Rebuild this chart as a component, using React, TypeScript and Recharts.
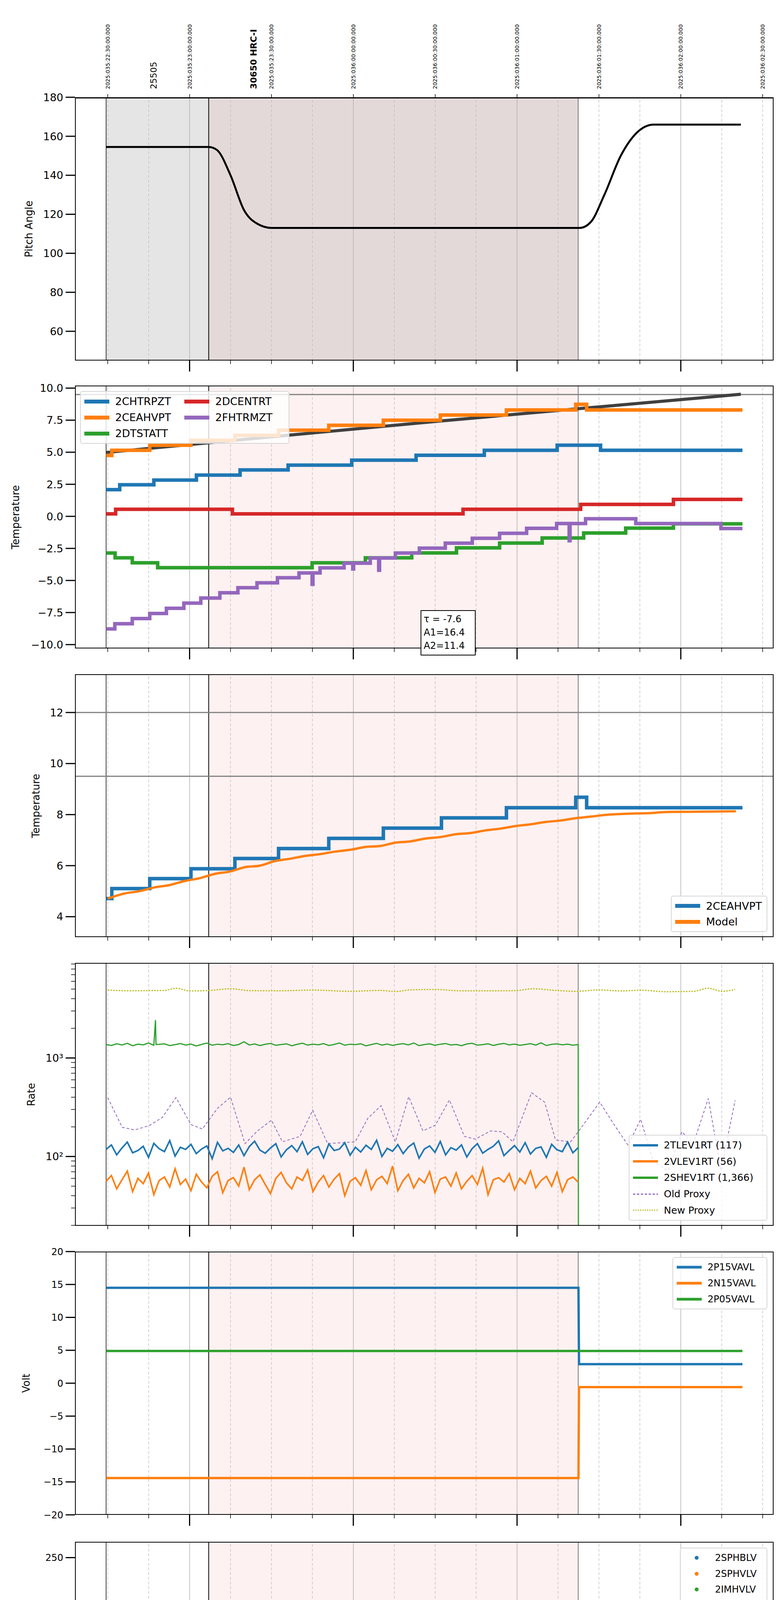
import React from "react";
import {
  LineChart,
  Line,
  XAxis,
  YAxis,
  ReferenceArea,
  ReferenceLine,
  Scatter,
} from "recharts";

type P = [number, number];

// time axis: minutes after 17:00 on 2025-02-05
const xDomain: P = [18, 274];
const xTicks = [30, 45, 60, 75, 90, 105, 120, 135, 150, 165, 180, 195, 210, 225, 240, 255, 270];
const hourLabels: Record<number, string> = { 60: "18h", 120: "19h", 180: "20h", 240: "21h" };
const topTicks = [30, 46.8, 60, 83.4, 90, 120, 150, 180, 210, 240, 270];
const topLabels: Record<number, string> = {
  30: "2025:035:22:30:00.000",
  60: "2025:035:23:00:00.000",
  90: "2025:035:23:30:00.000",
  120: "2025:036:00:00:00.000",
  150: "2025:036:00:30:00.000",
  180: "2025:036:01:00:00.000",
  210: "2025:036:01:30:00.000",
  240: "2025:036:02:00:00.000",
  270: "2025:036:02:30:00.000",
};
const obsStart = 29.4;
const hrcStart = 67;
const hrcEnd = 202.4;

// panel 1
const pitch: P[] = [
  [29.4, 154.5], [67, 154.5], [70, 153], [75, 140], [80, 122], [85, 115], [90, 113],
  [203, 113], [207, 116], [212, 130], [218, 150], [224, 162], [230, 166], [262, 166],
];

// panel 2
const chtrpzt: P[] = [[29.4, 2.08], [34.4, 2.46], [46.9, 2.83], [62.5, 3.22], [78.5, 3.62], [96.1, 3.99], [119.4, 4.38], [143, 4.76], [168, 5.15], [194.7, 5.55], [210.6, 5.15], [262.6, 5.15]];
const ceahvpt: P[] = [[29.4, 4.75], [31.5, 5.15], [45.4, 5.55], [60.5, 5.93], [76.6, 6.32], [92.6, 6.72], [111, 7.1], [131, 7.5], [151.9, 7.9], [176.1, 8.3], [201.5, 8.74], [205.5, 8.3], [262.6, 8.3]];
const dtstatt: P[] = [[29.4, -2.86], [32.7, -3.23], [39, -3.62], [48.3, -4.0], [104.9, -3.62], [124.4, -3.23], [141.4, -2.85], [157.8, -2.46], [173.6, -2.08], [189.2, -1.69], [204.4, -1.3], [219.8, -0.92], [237.3, -0.58], [262.6, -0.58]];
const dcentrt: P[] = [[29.4, 0.19], [32.9, 0.55], [75.7, 0.19], [160.2, 0.55], [203.3, 0.93], [237.3, 1.32], [262.6, 1.32]];
const fhtrmztT: P[] = [
  [29.4, -8.78], [32.6, -8.37], [39, -7.97], [45.4, -7.57], [51.5, -7.17], [57.9, -6.77], [64.1, -6.37], [71.1, -5.96],
  [77.7, -5.56], [84.7, -5.18], [92.2, -4.79], [100.1, -4.41], [104.8, -4.41], [104.9, -5.3], [105.2, -4.41], [107.8, -4.02],
  [116.6, -3.65], [119.8, -4.1], [120.1, -3.65], [126.2, -3.25], [129.3, -4.2], [129.6, -3.25], [135.4, -2.86], [144.2, -2.48],
  [153.7, -2.09], [163.6, -1.71], [173.6, -1.32], [183.5, -0.93], [194.5, -0.56], [199.1, -1.9], [199.4, -0.56], [205.1, -0.19],
  [223.5, -0.56], [254.7, -0.95], [262.6, -0.95],
];
const tempModel: P[] = [[29.4, 4.98], [90, 6.2], [150, 7.4], [262, 9.52]];

// panel 3
const ceahvpt3: P[] = [[29.4, 4.71], [31.5, 5.1], [45.4, 5.49], [60.5, 5.88], [76.6, 6.28], [92.6, 6.67], [111, 7.07], [131, 7.47], [152.3, 7.87], [176.1, 8.27], [201.5, 8.68], [205.5, 8.27], [262.6, 8.27]];
const model3: P[] = [
  [30, 4.71], [36.2, 4.91], [41.7, 5.0], [47.2, 5.15], [52.7, 5.24], [58.3, 5.4], [63.8, 5.51], [69.3, 5.68], [74.8, 5.77],
  [80.3, 5.94], [85.8, 6.0], [91.3, 6.18], [96.8, 6.27], [102.3, 6.38], [107.8, 6.45], [113.3, 6.55], [118.8, 6.62], [124.4, 6.73],
  [129.9, 6.77], [135.4, 6.9], [140.9, 6.95], [146.4, 7.06], [151.9, 7.12], [157.4, 7.23], [162.9, 7.28], [168.4, 7.38], [173.9, 7.45],
  [179.4, 7.55], [184.9, 7.62], [190.5, 7.71], [196, 7.77], [201.5, 7.86], [207, 7.92], [212.5, 7.99], [221.7, 8.04], [229, 8.06],
  [234.5, 8.1], [243.7, 8.11], [260.2, 8.13],
];

// panel 4 (rates, sampled evenly between obsStart and hrcEnd)
const tlev1rt = [118, 131, 104, 122, 140, 109, 115, 127, 98, 136, 120, 112, 145, 101, 124, 118, 133, 107, 119, 128, 95, 139, 114, 121, 110, 131, 102, 126, 143, 116, 108, 122, 135, 99, 117, 129, 112, 141, 105, 120, 126, 97, 134, 115, 119, 138, 103, 124, 111, 130, 118, 146, 100, 121, 113, 132, 107, 125, 137, 96, 119, 128, 110, 142, 104, 123, 116, 131, 99, 120, 135, 108, 118, 127, 144, 102, 115, 129, 111, 138, 106, 121, 125, 98, 133, 117, 112, 140, 109, 123];
const vlev1rt = [56, 64, 47, 58, 71, 44, 60, 53, 68, 41, 57, 62, 49, 75, 52, 59, 45, 66, 55, 48, 63, 70, 43, 57, 61, 50, 78, 46, 58, 65, 52, 42, 60, 69, 54, 47, 62, 57, 73, 44, 55, 64, 49, 59, 67, 40, 56, 61, 51, 72, 46, 58, 63, 53, 80, 45, 57, 66, 48, 60, 54, 70, 43, 59, 62, 50, 68, 47, 56, 64, 52, 76, 41, 58, 61, 55, 67, 46, 60, 53, 71, 48, 57, 63, 50, 69, 44, 58, 62, 55];
const shev1rt = [1370, 1340, 1395, 1355, 1410, 1330, 1380, 1360, 1420, 1345, 1375, 1390, 1335, 1365, 1400, 1350, 1385, 1325, 1372, 1415, 1348, 1380, 1362, 1398, 1340, 1370, 1460, 1355, 1388, 1335, 1378, 1405, 1345, 1368, 1392, 1330, 1375, 1412, 1350, 1383, 1360, 1400, 1338, 1372, 1418, 1347, 1380, 1365, 1395, 1328, 1370, 1408, 1352, 1386, 1342, 1375, 1398, 1358, 1420, 1335, 1368, 1390, 1346, 1380, 1402, 1355, 1372, 1332, 1388, 1410, 1350, 1366, 1395, 1340, 1378, 1405, 1357, 1384, 1345, 1370, 1398, 1352, 1425, 1338, 1375, 1392, 1360, 1382, 1348, 1370];
const shevExtra: P[] = [[47.5, 2420], [47.7, 1370], [202.5, 5]];
const oldProxy: P[] = [
  [30, 396], [35.3, 198], [39.9, 186], [45.4, 207], [50, 249], [55, 396], [60.5, 211], [64.7, 190], [70.2, 308], [75, 400],
  [80.3, 135], [84.9, 182], [90, 234], [94, 141], [100.5, 160], [105.1, 295], [110.6, 135], [120.7, 141], [125.3, 244], [130.2, 328],
  [135.4, 141], [140.3, 405], [145.5, 182], [150, 207], [155.2, 375], [160.7, 160], [164.7, 150], [170.3, 182], [174.5, 178], [178.5, 141],
  [185.3, 444], [190.1, 356], [194.1, 147], [199.6, 141], [202.9, 186], [210.3, 356], [216.2, 198], [220.7, 130], [225.3, 239], [229.9, 89],
  [235.4, 72], [240.4, 178], [244.6, 135], [250.1, 388], [254.7, 72], [259.9, 372],
];
const newProxy: P[] = [
  [30, 4890], [38.1, 4810], [45.4, 4830], [50.9, 4850], [55, 5100], [60.1, 4790], [67.4, 4850], [75, 5040], [82.1, 4830], [93.1, 4810],
  [105.1, 4890], [118.8, 4750], [129.9, 4850], [135.4, 4730], [140.9, 4910], [150, 4960], [159.2, 4810], [173.9, 4810], [179.4, 4830],
  [185.9, 5040], [194.1, 4850], [201.5, 4750], [210.3, 4910], [218, 4790], [225.3, 4870], [234.5, 4710], [244.6, 4750], [250.1, 5100],
  [255.1, 4750], [259.9, 4960],
];

// panel 5
const p15vavl: P[] = [[29.4, 14.5], [202.5, 14.5], [202.7, 2.9], [262.6, 2.9]];
const n15vavl: P[] = [[29.4, -14.4], [202.5, -14.4], [202.7, -0.6], [262.6, -0.6]];
const p05vavl: P[] = [[29.4, 4.9], [262.6, 4.9]];

// panel 6
const imhblv: P[] = [[29.4, 86], [202.4, 86]];
const imhvlv: P[] = [[29.4, 79], [202.4, 79]];
const imhvlvOut: P[] = [[138.1, 127], [138.6, 127], [139, 127], [174, 127], [176.7, 127]];
const imhblvOut: P[] = [[138.1, 79], [138.6, 79], [139.2, 79], [174, 79], [176.7, 79]];

// panel 7
const spikeA = [131.3, 133.2, 135.7, 136.3, 136.9, 137.5, 138.1, 138.7, 139.3, 139.9, 140.5, 142.4, 144.2, 146.4];
const spikeB = [173.9, 176.1, 180, 183.1, 185.9];
const spinatm: P[] = [[29.4, 3.66], [32.6, 3.19], [38.6, 2.68], [48.3, 2.21], [80.3, 1.72], [81.5, 2.21], [82.5, 1.72], [84, 2.21], [85.2, 1.72], [86.6, 2.21], [88, 1.72], [89.4, 2.21], [90.4, 1.72], [91.3, 2.21], [169.3, 2.68], [201.8, 2.68]];
const sphvatm: P[] = [[29.4, 12.65], [52, 12.97], [70.7, 13.31], [87.6, 13.64], [102.7, 13.98], [118.9, 14.3], [135.4, 14.64], [152.4, 14.99], [171.7, 15.35], [191.7, 15.68], [201.8, 15.68]];
const iminatm: P[] = [[29.4, -0.1], [96.8, 0.38], [160.2, 0.84], [201.8, 0.84]];
const imhvatm: P[] = [[29.4, 12.3], [30.2, 12.65], [36.2, 12.97], [43.2, 13.31], [50.4, 13.64], [58.6, 13.98], [67, 14.3], [77, 14.64], [87.6, 14.99], [99, 15.35], [110.8, 15.68], [124.4, 16.02], [138.7, 16.36], [154.3, 16.71], [171.7, 17.05], [192.3, 17.42], [202.3, 17.42], [202.4, 30], [202.5, -10]];

// panel 8
const fhtrmzt8: P[] = [
  [29.4, -8.79], [32.6, -8.37], [38.6, -7.98], [45, -7.58], [51.5, -7.17], [58.3, -6.77], [64.7, -6.38], [71.1, -5.98], [77.7, -5.59],
  [84.5, -5.19], [91.9, -4.8], [100.1, -4.4], [104.5, -5.2], [104.8, -4.4], [108.4, -4.01], [117, -3.62], [119.8, -4.1], [120.1, -3.62],
  [125.8, -3.23], [129, -4.1], [129.3, -3.23], [135.4, -2.84], [145.5, -2.51], [153.7, -2.13], [163.8, -1.74], [173.6, -1.36],
  [184.6, -1.0], [194.5, -0.6], [199.1, -1.8], [199.4, -0.6], [205.1, -0.24], [223.5, -0.61], [255.1, -1.0], [262.6, -1.0],
];
const fradpyt: P[] = [[29.4, -9.4], [46.9, -8.79], [53.3, -8.39], [59.7, -7.98], [66.2, -7.58], [73.3, -7.17], [81.6, -6.77], [94, -6.38], [106, -5.98], [117.4, -5.58], [128, -5.19], [140.5, -4.8], [149.1, -4.42], [159.2, -4.03], [170.3, -3.65], [181.6, -3.26], [193.2, -2.87], [204.6, -2.51], [210.6, -2.87], [256, -3.26], [262.6, -3.26]];
const fepratm: P[] = [[29.4, -7.28], [34, -6.86], [39.5, -6.44], [45.4, -6.03], [51.5, -5.62], [58.3, -5.21], [64.7, -4.8], [71.1, -4.37], [78.5, -3.95], [85.8, -3.54], [93.1, -3.12], [101.8, -2.68], [110.2, -2.27], [119.4, -1.84], [129, -1.41], [137.2, -0.98], [149.3, -0.54], [160.7, -0.09], [171.7, 0.36], [184, 0.81], [195.6, 1.3], [202.4, 1.3]];
const fe00atm: P[] = [[29.4, -9.5], [37.2, -8.97], [42.3, -8.57], [46.9, -8.18], [51.8, -7.8], [56.8, -7.43], [61.9, -7.13], [67, -6.75], [68.4, -6.0], [68.7, -6.75], [72.4, -6.4], [77.9, -6.05], [79.7, -5.0], [80, -6.05], [83.6, -5.69], [89.5, -5.35], [95.9, -5.0], [102.3, -4.66], [109.1, -4.32], [116.1, -3.97], [122.9, -3.63], [129.9, -3.29], [138, -3.03], [143.1, -10], [143.4, -3.03], [146.4, -2.61], [153.7, -2.29], [160.7, -1.95], [169.3, -1.63], [177.2, -1.29], [185, -0.94], [193.8, -0.63], [202.3, -0.63], [202.4, 5], [202.5, -10]];
const redSpike8A = [131.3, 133.2, 135.5, 136.1, 136.7, 137.3, 137.9, 138.5, 139.1, 139.7, 140.3, 140.9, 141.5, 142.1, 142.7, 143.6, 144.2, 144.8, 145.4, 146];
const redSpike8B = [173, 175.4, 177.6, 180, 183.1, 185.9];
const greenSpike8 = [133.2, 137.2, 138.1, 139.4, 140.5, 142.7, 144.9, 146.4, 173.9, 176.3];

// ---------- helpers ----------
const C = { blue: "#1f77b4", orange: "#ff7f0e", green: "#2ca02c", red: "#d62728", purple: "#9467bd", olive: "#bcbd22" };
const FONT = "DejaVu Sans";
const L = 192;
const R = 19;
const PW = 2000 - L - R;
const SW = 9;

const pts = (a: P[]) => a.map(([t, v]) => ({ t, v }));
function withSpikes(base: P[], times: number[], val: number): P[] {
  const out: P[] = [...base];
  for (const s of times) {
    let b = base[0][1];
    for (const [t, v] of base) if (t <= s) b = v;
    out.push([s, val], [s + 0.3, b]);
  }
  return out.sort((a, b) => a[0] - b[0]);
}
function evenly(vals: number[]): P[] {
  const dt = (hrcEnd - obsStart) / (vals.length - 1);
  return vals.map((v, i) => [obsStart + i * dt, v] as P);
}
const xPix = (m: number) => L + ((m - xDomain[0]) / (xDomain[1] - xDomain[0])) * PW;

function XTick(props: any) {
  const { x, y, payload, labels } = props;
  const v = payload.value;
  const hour = v % 60 === 0;
  const minor = v % 60 === 30 ? "30" : v % 60 === 45 ? "45" : "15";
  return (
    <g>
      <line x1={x} x2={x} y1={y} y2={y + (hour ? 28 : 9)} stroke="#000" strokeWidth={hour ? 3 : 1.5} />
      {labels && !hour && (
        <text x={x} y={y + 22} textAnchor="middle" fontFamily={FONT} fontSize={17}>{minor}</text>
      )}
      {labels && hour && (
        <text x={x} y={y + 60} textAnchor="middle" fontFamily={FONT} fontSize={26}>{hourLabels[v]}</text>
      )}
    </g>
  );
}

function TopTick(props: any) {
  const { x, payload } = props;
  const v = payload.value;
  const y = 228;
  if (v === 46.8 || v === 83.4) {
    return (
      <text transform={`translate(${x + 8},${y}) rotate(-90)`} fontFamily={FONT} fontSize={22} fontWeight={v === 83.4 ? "bold" : "normal"}>
        {v === 46.8 ? "25505" : "30650 HRC-I"}
      </text>
    );
  }
  return (
    <g>
      <line x1={x} x2={x} y1={249} y2={241} stroke="#000" strokeWidth={1.5} />
      <text transform={`translate(${x + 5},${y}) rotate(-90)`} fontFamily={FONT} fontSize={14}>{topLabels[v]}</text>
    </g>
  );
}

function YTick(props: any) {
  const { x, y, payload, fmt, fs, minor } = props;
  const v = payload.value;
  const isMinor = minor && minor.includes(v);
  const lab = fmt(v);
  return (
    <g>
      <line x1={x - (isMinor ? 10 : 24)} x2={x} y1={y} y2={y} stroke="#000" strokeWidth={isMinor ? 1.5 : 3} />
      {!isMinor && lab !== "" && (
        <text x={x - 30} y={y} dy="0.36em" textAnchor="end" fontFamily={FONT} fontSize={fs}>{lab}</text>
      )}
    </g>
  );
}

const minus = (s: string) => s.replace("-", "\u2212");

function frame(shadeDark: boolean) {
  const els: any[] = [
    <ReferenceArea key="s1" x1={obsStart} x2={hrcStart} fill={shadeDark ? "#e5e5e5" : "#ffffff"} fillOpacity={1} stroke="none" ifOverflow="hidden" />,
    <ReferenceArea key="s2" x1={hrcStart} x2={hrcEnd} fill={shadeDark ? "#e4d9d9" : "#fef1f1"} fillOpacity={1} stroke="none" ifOverflow="hidden" />,
  ];
  xTicks.forEach((t) => {
    const hour = t % 60 === 0;
    els.push(
      <ReferenceLine key={"g" + t} x={t} stroke={hour ? "#b0b0b0" : "#b8b8b8"} strokeWidth={hour ? 1.5 : 1.2} strokeDasharray={hour ? undefined : "7 5"} />
    );
  });
  els.push(<ReferenceLine key="b1" x={obsStart} stroke="#000" strokeWidth={1.5} />);
  els.push(<ReferenceLine key="b2" x={hrcStart} stroke="#000" strokeWidth={2} />);
  els.push(<ReferenceLine key="b3" x={hrcEnd} stroke="#000" strokeWidth={1} />);
  return els;
}

type LegItem = { label: string; color: string; kind?: "line" | "dash" | "dot" | "dotted"; w?: number };

function Legend({ items, x, y, w, h, cols = 1, fs = 27 }: { items: LegItem[]; x: number; y: number; w: number; h: number; cols?: number; fs?: number }) {
  const rows = Math.ceil(items.length / cols);
  return (
    <div
      style={{
        position: "absolute", left: x, top: y, width: w, height: h, boxSizing: "border-box",
        border: "2px solid #d6d6d6", borderRadius: 6, background: "rgba(255,255,255,0.8)",
        display: "grid", gridTemplateColumns: `repeat(${cols}, auto)`, gridTemplateRows: `repeat(${rows}, 1fr)`,
        gridAutoFlow: "column", padding: "4px 8px", fontFamily: FONT, fontSize: fs, alignItems: "center",
      }}
    >
      {items.map((it) => (
        <div key={it.label} style={{ display: "flex", alignItems: "center", whiteSpace: "nowrap" }}>
          <svg width={66} height={16} style={{ marginRight: 14 }}>
            {it.kind === "dot" ? (
              <circle cx={33} cy={8} r={5} fill={it.color} />
            ) : (
              <line x1={1} x2={65} y1={8} y2={8} stroke={it.color} strokeWidth={it.w ?? 10}
                strokeDasharray={it.kind === "dash" ? "6 4" : it.kind === "dotted" ? "3 3" : undefined} />
            )}
          </svg>
          {it.label}
        </div>
      ))}
    </div>
  );
}

function Panel(props: {
  top: number; bottom: number; yDomain: P; yTicks: number[]; fmt: (v: number) => string; fs?: number;
  yLabel: string; yLabelX: number; log?: boolean; minor?: number[]; first?: boolean; last?: boolean;
  children: any; overlay?: any;
}) {
  const { top, bottom, first, last } = props;
  const mTop = first ? top : 12;
  const mBot = last ? 110 : 40;
  const chartTop = top - mTop;
  const H = bottom - top + mTop + mBot;
  return (
    <div style={{ position: "absolute", left: 0, top: chartTop, width: 2000, height: H }}>
      <LineChart width={2000} height={H} margin={{ top: first ? 0 : mTop, right: R, bottom: 0, left: 0 }}>
        <XAxis dataKey="t" type="number" domain={xDomain} ticks={xTicks} interval={0} tickSize={0} tickMargin={0}
          axisLine={false} tickLine={false} tick={<XTick labels={!!last} />} height={mBot} allowDataOverflow />
        {first && (
          <XAxis xAxisId="top" orientation="top" dataKey="t" type="number" domain={xDomain} ticks={topTicks} interval={0}
            tickSize={0} tickMargin={0} axisLine={false} tickLine={false} tick={<TopTick />} height={mTop} allowDataOverflow />
        )}
        <YAxis type="number" width={L} domain={props.yDomain} ticks={props.yTicks} interval={0} allowDataOverflow
          scale={props.log ? "log" : "auto"} tickSize={0} tickMargin={0} axisLine={false} tickLine={false}
          tick={<YTick fmt={props.fmt} fs={props.fs ?? 27} minor={props.minor} />} />
        {props.children}
      </LineChart>
      <div style={{ position: "absolute", left: L, top: mTop, width: PW, height: bottom - top, border: "2px solid #000", borderTopWidth: first ? 3 : 2, boxSizing: "border-box", pointerEvents: "none" }} />
      <div style={{ position: "absolute", left: props.yLabelX, top: mTop + (bottom - top) / 2, transform: "translate(-50%,-50%) rotate(-90deg)", fontFamily: FONT, fontSize: 26, whiteSpace: "nowrap" }}>
        {props.yLabel}
      </div>
      {props.overlay}
    </div>
  );
}

const step = (key: string, data: P[], color: string, w = SW) => (
  <Line key={key} data={pts(data)} dataKey="v" type="stepAfter" stroke={color} strokeWidth={w} dot={false} isAnimationActive={false} />
);

const logMinor = [20, 30, 40, 50, 60, 70, 80, 90, 200, 300, 400, 500, 600, 700, 800, 900, 2000, 3000, 4000, 5000, 6000, 7000, 8000, 9000];

export default function App() {
  const rateBlue = evenly(tlev1rt);
  const rateOrange = evenly(vlev1rt);
  const rateGreen = [...evenly(shev1rt), ...shevExtra].sort((a, b) => a[0] - b[0]);
  return (
    <div style={{ position: "absolute", left: 0, top: 0, width: 2000, height: 6200, background: "#fff" }}>
      <Panel first top={249} bottom={923} yDomain={[45, 180]} yTicks={[60, 80, 100, 120, 140, 160, 180]} fmt={(v) => String(v)} yLabel="Pitch Angle" yLabelX={74}>
        {frame(true)}
        <Line data={pts(pitch)} dataKey="v" type="monotone" stroke="#000" strokeWidth={5} dot={false} isAnimationActive={false} />
      </Panel>

      <Panel top={987} bottom={1660} yDomain={[-10.3, 10.2]} yTicks={[-10, -7.5, -5, -2.5, 0, 2.5, 5, 7.5, 10]} fmt={(v) => minus(v.toFixed(1))} yLabel="Temperature" yLabelX={40}
        overlay={
          <>
            <Legend x={205} y={1001 - 975} w={536} h={135} cols={2} items={[
              { label: "2CHTRPZT", color: C.blue }, { label: "2CEAHVPT", color: C.orange }, { label: "2DTSTATT", color: C.green },
              { label: "2DCENTRT", color: C.red }, { label: "2FHTRMZT", color: C.purple },
            ]} />
            <div style={{ position: "absolute", left: 1077, top: 1562 - 975, width: 141, height: 116, boxSizing: "border-box", border: "2px solid #000", background: "#fff", fontFamily: FONT, fontSize: 24, lineHeight: "34px", padding: "4px 6px" }}>
              τ = -7.6<br />A1=16.4<br />A2=11.4
            </div>
          </>
        }>
        {frame(false)}
        <ReferenceLine y={9.5} stroke="#808080" strokeWidth={3} />
        <Line data={pts(tempModel)} dataKey="v" type="monotone" stroke="#404040" strokeWidth={8} dot={false} isAnimationActive={false} />
        {step("a", chtrpzt, C.blue)}
        {step("b", ceahvpt, C.orange)}
        {step("c", dtstatt, C.green)}
        {step("d", dcentrt, C.red)}
        {step("e", fhtrmztT, C.purple)}
      </Panel>

      <Panel top={1726} bottom={2399} yDomain={[3.2, 13.5]} yTicks={[4, 6, 8, 10, 12]} fmt={(v) => String(v)} yLabel="Temperature" yLabelX={92}
        overlay={<Legend x={1718} y={2293 - 1714} w={247} h={93} items={[{ label: "2CEAHVPT", color: C.blue }, { label: "Model", color: C.orange }]} />}>
        {frame(false)}
        <ReferenceLine y={12} stroke="#808080" strokeWidth={3} />
        <ReferenceLine y={9.5} stroke="#808080" strokeWidth={3} />
        {step("a", ceahvpt3, C.blue, 9)}
        <Line data={pts(model3)} dataKey="v" type="monotone" stroke={C.orange} strokeWidth={6} dot={false} isAnimationActive={false} />
      </Panel>

      <Panel top={2465} bottom={3138} log yDomain={[19.8, 9230]} yTicks={[...logMinor, 100, 1000].sort((a, b) => a - b)} minor={logMinor}
        fmt={(v) => (v === 100 ? "10²" : v === 1000 ? "10³" : "")} yLabel="Rate" yLabelX={80}
        overlay={<Legend x={1610} y={2905 - 2453} w={355} h={220} fs={25} items={[
          { label: "2TLEV1RT (117)", color: C.blue, w: 6 }, { label: "2VLEV1RT (56)", color: C.orange, w: 6 },
          { label: "2SHEV1RT (1,366)", color: C.green, w: 6 }, { label: "Old Proxy", color: C.purple, kind: "dash", w: 3 },
          { label: "New Proxy", color: C.olive, kind: "dotted", w: 3 },
        ]} />}>
        {frame(false)}
        <Line data={pts(newProxy)} dataKey="v" type="monotone" stroke={C.olive} strokeWidth={3} strokeDasharray="4 3" dot={false} isAnimationActive={false} />
        <Line data={pts(rateGreen)} dataKey="v" type="linear" stroke={C.green} strokeWidth={3} dot={false} isAnimationActive={false} />
        <Line data={pts(oldProxy)} dataKey="v" type="linear" stroke={C.purple} strokeWidth={2} strokeDasharray="7 5" dot={false} isAnimationActive={false} />
        <Line data={pts(rateBlue)} dataKey="v" type="linear" stroke={C.blue} strokeWidth={4} dot={false} isAnimationActive={false} />
        <Line data={pts(rateOrange)} dataKey="v" type="linear" stroke={C.orange} strokeWidth={4} dot={false} isAnimationActive={false} />
      </Panel>

      <Panel top={3204} bottom={3878} yDomain={[-20, 20]} yTicks={[-20, -15, -10, -5, 0, 5, 10, 15, 20]} fs={24} fmt={(v) => minus(String(v))} yLabel="Volt" yLabelX={67}
        overlay={<Legend x={1722} y={3218 - 3192} w={243} h={134} fs={24} items={[
          { label: "2P15VAVL", color: C.blue, w: 7 }, { label: "2N15VAVL", color: C.orange, w: 7 }, { label: "2P05VAVL", color: C.green, w: 7 },
        ]} />}>
        {frame(false)}
        <Line data={pts(p15vavl)} dataKey="v" type="linear" stroke={C.blue} strokeWidth={6} dot={false} isAnimationActive={false} />
        <Line data={pts(n15vavl)} dataKey="v" type="linear" stroke={C.orange} strokeWidth={6} dot={false} isAnimationActive={false} />
        <Line data={pts(p05vavl)} dataKey="v" type="linear" stroke={C.green} strokeWidth={6} dot={false} isAnimationActive={false} />
      </Panel>

      <Panel top={3947} bottom={4620} yDomain={[0, 266]} yTicks={[0, 50, 100, 150, 200, 250]} fs={24} fmt={(v) => String(v)} yLabel="HV Monitor" yLabelX={73}
        overlay={<Legend x={1741} y={3962 - 3935} w={224} h={174} fs={24} items={[
          { label: "2SPHBLV", color: C.blue, kind: "dot" }, { label: "2SPHVLV", color: C.orange, kind: "dot" },
          { label: "2IMHVLV", color: C.green, kind: "dot" }, { label: "2IMHBLV", color: C.red, kind: "dot" },
        ]} />}>
        {frame(false)}
        <Line data={pts(imhvlv)} dataKey="v" type="linear" stroke={C.green} strokeWidth={11} strokeLinecap="round" dot={false} isAnimationActive={false} />
        <Line data={pts(imhblv)} dataKey="v" type="linear" stroke={C.red} strokeWidth={11} strokeLinecap="round" dot={false} isAnimationActive={false} />
        <Scatter data={pts(imhvlvOut)} dataKey="v" fill={C.green} shape="circle" isAnimationActive={false} />
        <Scatter data={pts(imhblvOut)} dataKey="v" fill={C.red} shape="circle" isAnimationActive={false} />
      </Panel>

      <Panel top={4682} bottom={5354} yDomain={[-1.6, 18.2]} yTicks={[0, 2.5, 5, 7.5, 10, 12.5, 15, 17.5]} fmt={(v) => v.toFixed(1)} yLabel="Detector Temp" yLabelX={62}
        overlay={<Legend x={1718} y={4696 - 4670} w={247} h={176} items={[
          { label: "2SPINATM", color: C.blue }, { label: "2SPHVATM", color: C.orange }, { label: "2IMINATM", color: C.green }, { label: "2IMHVATM", color: C.red },
        ]} />}>
        {frame(false)}
        {step("a", withSpikes(withSpikes(spinatm, spikeA, -3), spikeB, -3), C.blue)}
        {step("b", withSpikes(withSpikes(sphvatm, spikeA, 8.63), spikeB, 9.28), C.orange)}
        {step("c", withSpikes(withSpikes(iminatm, spikeA, 2.3), spikeB, 2.75), C.green)}
        {step("d", withSpikes(withSpikes(imhvatm, spikeA, 14.3), spikeB, 15.3), C.red)}
      </Panel>

      <Panel last top={5421} bottom={6091} yDomain={[-9.03, 0.95]} yTicks={[-8, -6, -4, -2, 0]} fmt={(v) => String(v)} yLabel="FEA Temp" yLabelX={83}
        overlay={
          <>
            <Legend x={1714} y={5904 - 5409} w={251} h={176} items={[
              { label: "2FHTRMZT", color: C.blue }, { label: "2FRADPYT", color: C.orange }, { label: "2FEPRATM", color: C.green }, { label: "2FE00ATM", color: C.red },
            ]} />
            <div style={{ position: "absolute", left: xPix(146), top: 6180 - 5409, transform: "translate(-50%,-50%)", fontFamily: FONT, fontSize: 28, whiteSpace: "nowrap" }}>
              2025-02-05 (036)
            </div>
          </>
        }>
        {frame(false)}
        {step("a", fhtrmzt8, C.blue)}
        {step("b", fradpyt, C.orange)}
        {step("c", withSpikes(fepratm, greenSpike8, -6.05), C.green)}
        {step("d", withSpikes(withSpikes(fe00atm, redSpike8A, 1.5), redSpike8B, 1.5), C.red)}
      </Panel>
    </div>
  );
}
